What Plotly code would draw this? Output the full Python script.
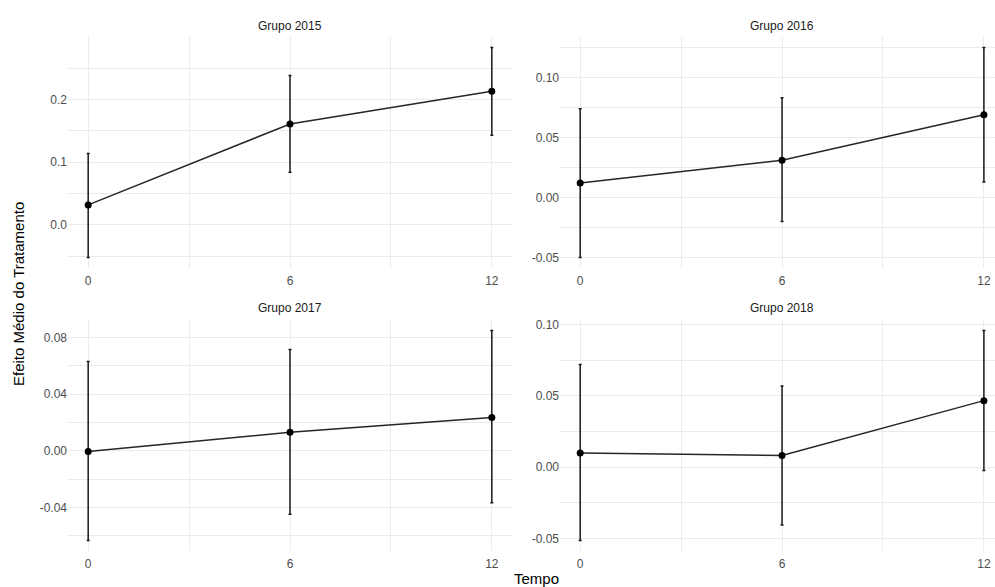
import numpy as np
import plotly.graph_objects as go

# ---- data ----
tempo = [0, 6, 12]
grupos = ["Grupo 2015", "Grupo 2016", "Grupo 2017", "Grupo 2018"]
att_2015 = [0.032, 0.161, 0.213]
upper_2015 = [0.114, 0.238, 0.283]
lower_2015 = [-0.052, 0.084, 0.143]

att_2016 = [0.012, 0.031, 0.069]
upper_2016 = [0.074, 0.083, 0.125]
lower_2016 = [-0.050, -0.020, 0.013]

att_2017 = [-0.0005, 0.013, 0.0235]
upper_2017 = [0.063, 0.0715, 0.085]
lower_2017 = [-0.0635, -0.0448, -0.0368]

att_2018 = [0.010, 0.0082, 0.0467]
upper_2018 = [0.072, 0.057, 0.096]
lower_2018 = [-0.0516, -0.0407, -0.0023]

# tick values per panel
yticks_2015 = [0.0, 0.1, 0.2]
yticklabels_2015 = ["0.0", "0.1", "0.2"]
yminor_2015 = [-0.05, 0.05, 0.15, 0.25]
yticks_2016 = [-0.05, 0.0, 0.05, 0.10]
yticklabels_2016 = ["-0.05", "0.00", "0.05", "0.10"]
yminor_2016 = [-0.025, 0.025, 0.075, 0.125]
yticks_2017 = [-0.04, 0.0, 0.04, 0.08]
yticklabels_2017 = ["-0.04", "0.00", "0.04", "0.08"]
yminor_2017 = [-0.06, -0.02, 0.02, 0.06]
yticks_2018 = [-0.05, 0.0, 0.05, 0.10]
yticklabels_2018 = ["-0.05", "0.00", "0.05", "0.10"]
yminor_2018 = [-0.025, 0.025, 0.075]
xticks = [0, 6, 12]
xminor = [3, 9]

panels = [
    (att_2015, upper_2015, lower_2015, yticks_2015, yticklabels_2015, yminor_2015),
    (att_2016, upper_2016, lower_2016, yticks_2016, yticklabels_2016, yminor_2016),
    (att_2017, upper_2017, lower_2017, yticks_2017, yticklabels_2017, yminor_2017),
    (att_2018, upper_2018, lower_2018, yticks_2018, yticklabels_2018, yminor_2018),
]

W, H = 995, 587
# panel pixel boxes (left, right, top, bottom)
boxes = [(68, 512, 35, 267), (560, 995, 35, 267), (68, 512, 319, 551), (560, 995, 319, 551)]
xranges = [[-0.6, 12.6], [-0.6, 12.33], [-0.6, 12.6], [-0.6, 12.33]]

GRID = "#EBEBEB"
TICKFONT = dict(family="Liberation Sans, Arial", size=12, color="#4D4D4D")
fig = go.Figure()
for i, (att, up, lo, yt, ytl, ymin) in enumerate(panels):
    k = "" if i == 0 else str(i + 1)
    att_a = np.array(att); up_a = np.array(up); lo_a = np.array(lo)
    fig.add_trace(go.Scatter(
        x=tempo, y=att, mode="lines+markers",
        line=dict(color="#262626", width=1.5),
        marker=dict(color="black", size=7),
        error_y=dict(type="data", symmetric=False, array=up_a - att_a,
                     arrayminus=att_a - lo_a, color="#1a1a1a", thickness=1.5, width=1.5),
        xaxis="x" + k, yaxis="y" + k, showlegend=False))
    l, r, t, b = boxes[i]
    lo_all, hi_all = lo_a.min(), up_a.max()
    pad = 0.05 * (hi_all - lo_all)
    fig.layout["xaxis" + k] = dict(
        domain=[l / W, r / W], range=xranges[i], anchor="y" + k,
        tickvals=xticks, ticktext=[str(v) for v in xticks],
        showgrid=True, gridcolor=GRID, gridwidth=1.1, zeroline=False, showline=False,
        ticks="", tickfont=TICKFONT, ticklabelstandoff=4,
        minor=dict(tickvals=xminor, showgrid=True, gridcolor=GRID, gridwidth=0.6, ticks=""),
    )
    fig.layout["yaxis" + k] = dict(
        domain=[1 - b / H, 1 - t / H], range=[lo_all - pad, hi_all + pad], anchor="x" + k,
        tickvals=yt, ticktext=ytl,
        showgrid=True, gridcolor=GRID, gridwidth=1.1, zeroline=False, showline=False,
        ticks="", tickfont=TICKFONT,
        minor=dict(tickvals=ymin, showgrid=True, gridcolor=GRID, gridwidth=0.6, ticks=""),
    )

annotations = []
strip_pos = [(290, 24), (782, 24), (290, 307), (782, 307)]
for (px, py), g in zip(strip_pos, grupos):
    annotations.append(dict(text=g, x=px / W, y=1 - py / H, xref="paper", yref="paper",
                            showarrow=False, xanchor="center", yanchor="middle",
                            font=dict(family="Liberation Sans, Arial", size=12, color="#1A1A1A")))
annotations.append(dict(text="Tempo", x=536 / W, y=1 - 578 / H, xref="paper", yref="paper",
                        showarrow=False, xanchor="center", yanchor="middle",
                        font=dict(family="Liberation Sans, Arial", size=15, color="black")))
annotations.append(dict(text="Efeito Médio do Tratamento", x=18 / W, y=1 - 293 / H,
                        xref="paper", yref="paper", showarrow=False, textangle=-90,
                        xanchor="center", yanchor="middle",
                        font=dict(family="Liberation Sans, Arial", size=15, color="black")))

fig.update_layout(width=W, height=H, margin=dict(l=0, r=0, t=0, b=0),
                  paper_bgcolor="white", plot_bgcolor="white", annotations=annotations)
fig.write_html("out.html")
